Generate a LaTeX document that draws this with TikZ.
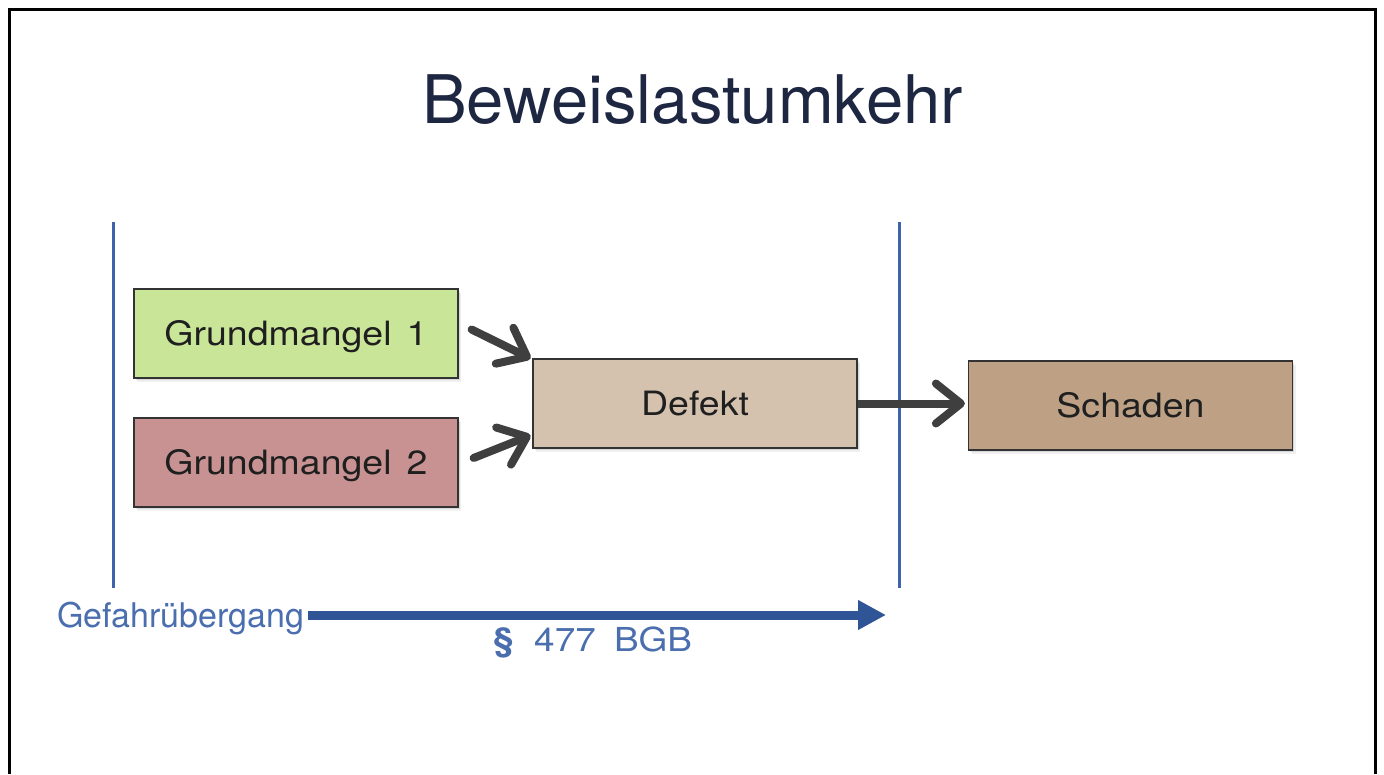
\documentclass[tikz,border=0pt]{standalone}
\usepackage{fontspec}
\setmainfont{TeX Gyre Heros}
\newfontfamily\boxfont{TeX Gyre Heros}[FakeStretch=1.12]
\usetikzlibrary{arrows.meta,shadows}

\definecolor{titlecol}{HTML}{1E2742}
\definecolor{greenbox}{HTML}{C9E597}
\definecolor{redbox}{HTML}{C89292}
\definecolor{defektbox}{HTML}{D4C2AE}
\definecolor{schadenbox}{HTML}{BEA185}
\definecolor{arrowgray}{HTML}{3F3F3F}
\definecolor{lineblue}{HTML}{3D64AA}
\definecolor{arrowblue}{HTML}{2F5597}
\definecolor{labelblue}{HTML}{4A6EAE}

\tikzset{
  softshadow/.style={
    general shadow={fill=black, opacity=0.10, shadow xshift=1.5pt, shadow yshift=-2pt},
    general shadow={fill=black, opacity=0.06, shadow xshift=3pt, shadow yshift=-4pt}},
  stage/.style={draw=black!80, line width=1.2pt, minimum width=324pt, minimum height=89pt,
    inner sep=0pt, softshadow, font=\boxfont\fontsize{33.5}{40}\selectfont,
    text=black!88, text height=24pt, text depth=0pt},
  garrow/.style={draw=arrowgray, line width=8pt, line cap=round,
    -{Straight Barb[length=25pt, width=40pt, round]}},
  vline/.style={draw=lineblue, line width=3pt},
  barrow/.style={draw=arrowblue, line width=9pt,
    -{Triangle[length=28pt, width=28pt]}},
}

\begin{document}
\begin{tikzpicture}[x=1pt, y=-1pt]
  \useasboundingbox (0,0) rectangle (1384,774);
  \fill[white] (0,0) rectangle (1384,774);

  % slide frame (open at the bottom)
  \draw[black, line width=3pt] (9,774) -- (9,9) -- (1375,9) -- (1375,774);

  % title
  \node[anchor=base, text=titlecol, font=\fontsize{67}{80}\selectfont, inner sep=0pt]
    (title) at (692.5,123) {Beweislastumkehr};

  % time markers
  \draw[vline] (113,222) -- (113,588);
  \draw[vline] (899,222) -- (899,588);

  % stages
  \node[stage, fill=greenbox]   (g1)      at (296,333.5)  {Grundmangel\hspace{0.45em}1};
  \node[stage, fill=redbox]     (g2)      at (296,462.5)  {Grundmangel\hspace{0.45em}2};
  \node[stage, fill=defektbox]  (defekt)  at (695,403.5)  {Defekt};
  \node[stage, fill=schadenbox] (schaden) at (1130.5,405.5) {Schaden};

  % causal arrows
  \draw[garrow, shorten >=2pt] ([xshift=13pt,yshift=4pt]g1.east) -- ([yshift=-1pt]defekt.north west);
  \draw[garrow, shorten >=2pt] ([xshift=15pt,yshift=4.5pt]g2.east) -- ([yshift=14pt]defekt.south west);
  \draw[garrow, line cap=butt, shorten >=3pt] (defekt.east) -- (defekt.east -| schaden.west);

  % time span of the presumption
  \node[anchor=base, text=labelblue, font=\fontsize{34}{40}\selectfont, inner sep=4pt]
    (gef) at (180.5,627) {Gefahrübergang};
  \coordinate (bend) at (886,615);
  \draw[barrow] (gef.east |- bend) -- (bend);
  \node[anchor=base west, text=labelblue, font=\boxfont\fontsize{33}{40}\selectfont, inner sep=0pt]
    (bgb) at (493,651) {\textbf{§}\hspace{0.62em}477\hspace{0.55em}BGB};
\end{tikzpicture}
\end{document}
